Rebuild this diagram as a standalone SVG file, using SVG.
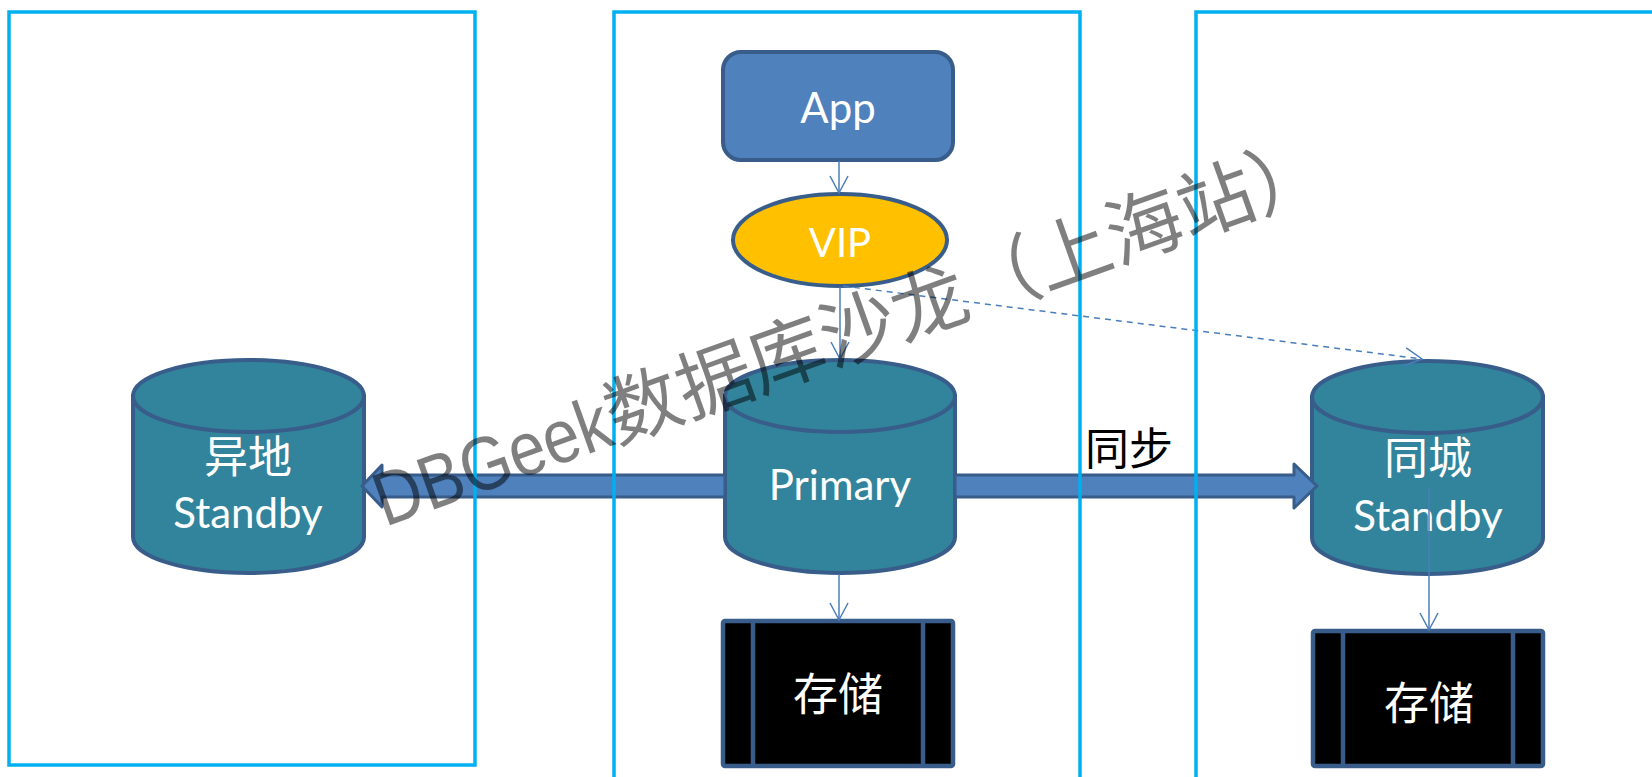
<svg xmlns="http://www.w3.org/2000/svg" width="1652" height="777" viewBox="0 0 1652 777">
<defs>
<style>
.frame{fill:none;stroke:#00B0F0;stroke-width:3.5}
.cyl{fill:#31849B;stroke:#385D8A;stroke-width:4}
.app{fill:#4F81BD;stroke:#385D8A;stroke-width:4}
.vip{fill:#FFC000;stroke:#385D8A;stroke-width:4}
.store{fill:#000;stroke:#385D8A;stroke-width:4.5}
.lat{font-family:Lato,"Liberation Sans",sans-serif;fill:#fff;text-anchor:middle}
.cjk{font-family:"Noto Sans CJK SC",sans-serif;fill:#fff;text-anchor:middle}
.thin{fill:none;stroke:#4A7EBB;stroke-width:1.5}
.dash{fill:none;stroke:#4A7EBB;stroke-width:1.5;stroke-dasharray:6 5}
.block{fill:#4F81BD;stroke:#385D8A;stroke-width:3;stroke-linejoin:round}
.wm{font-family:"Liberation Sans","Noto Sans CJK SC",sans-serif;font-size:76px;fill:#000;fill-opacity:0.5}
</style>
<marker id="open" markerUnits="userSpaceOnUse" markerWidth="20" markerHeight="20" refX="17" refY="9" orient="auto" overflow="visible">
<path d="M0,0 L17,9 L0,18" fill="none" stroke="#4A7EBB" stroke-width="1.5"/>
</marker>
</defs>
<rect width="1652" height="777" fill="#fff"/>

<g id="node-app">
<rect class="app" x="723" y="52" width="230" height="108" rx="18"/>
<text class="lat" x="838" y="123" font-size="42">App</text>
</g>
<g id="node-vip">
<ellipse class="vip" cx="840" cy="240" rx="107" ry="46"/>
<text class="lat" x="840" y="257" font-size="40">VIP</text>
</g>
<g id="node-remote-standby">
<path class="cyl" d="M133,396 L133,537 A115.5,36 0 0 0 364,537 L364,396 Z"/>
<ellipse class="cyl" cx="248.5" cy="396" rx="115.5" ry="36"/>
<text class="cjk" x="248" y="473" font-size="44">异地</text>
<text class="lat" x="248" y="528" font-size="42">Standby</text>
</g>
<g id="node-primary">
<path class="cyl" d="M725,396 L725,537 A115,36 0 0 0 955,537 L955,396 Z"/>
<ellipse class="cyl" cx="840" cy="396" rx="115" ry="36"/>
<text class="lat" x="840" y="500" font-size="42">Primary</text>
</g>
<g id="node-local-standby">
<path class="cyl" d="M1312,397 L1312,538 A115.5,36 0 0 0 1543,538 L1543,397 Z"/>
<ellipse class="cyl" cx="1427.5" cy="397" rx="115.5" ry="36"/>
<text class="cjk" x="1428" y="474" font-size="44">同城</text>
<text class="lat" x="1428" y="531" font-size="42">Standby</text>
</g>
<g id="node-storage-primary">
<rect class="store" x="723" y="621" width="230" height="145" rx="2"/>
<line x1="753" y1="621" x2="753" y2="766" stroke="#385D8A" stroke-width="4.5"/>
<line x1="923" y1="621" x2="923" y2="766" stroke="#385D8A" stroke-width="4.5"/>
<text class="cjk" x="838" y="711" font-size="45">存储</text>
</g>
<g id="node-storage-standby">
<rect class="store" x="1313" y="631" width="230" height="135" rx="2"/>
<line x1="1343" y1="631" x2="1343" y2="766" stroke="#385D8A" stroke-width="4.5"/>
<line x1="1513" y1="631" x2="1513" y2="766" stroke="#385D8A" stroke-width="4.5"/>
<text class="cjk" x="1429" y="720" font-size="45">存储</text>
</g>

<g id="connectors">
<path class="block" d="M725,475 L382,475 L382,465 L362,486 L382,507 L382,497 L725,497 Z"/>
<path class="block" d="M955,475 L1294,475 L1294,464 L1317,486 L1294,508 L1294,497 L955,497 Z"/>
<line class="thin" x1="839" y1="161" x2="839" y2="193" marker-end="url(#open)"/>
<line class="thin" x1="840" y1="287" x2="840" y2="359" marker-end="url(#open)"/>
<line class="dash" x1="843" y1="286" x2="1422" y2="359" marker-end="url(#open)"/>
<line class="thin" x1="839" y1="574" x2="839" y2="620" marker-end="url(#open)"/>
<line class="thin" x1="1429" y1="488" x2="1429" y2="630" marker-end="url(#open)"/>
<text x="1085" y="465" font-family="Noto Sans CJK SC, sans-serif" font-size="44" fill="#000">同步</text>
</g>

<g id="frames">
<rect class="frame" x="9" y="12" width="466" height="753"/>
<rect class="frame" x="614" y="12" width="466" height="800"/>
<rect class="frame" x="1196" y="12" width="520" height="800"/>
</g>

<g id="watermark">
<text class="wm" transform="translate(385,527) rotate(-19.7)"><tspan textLength="246" lengthAdjust="spacingAndGlyphs">DBGeek</tspan>数据库沙龙（上海站）</text>
</g>
</svg>
